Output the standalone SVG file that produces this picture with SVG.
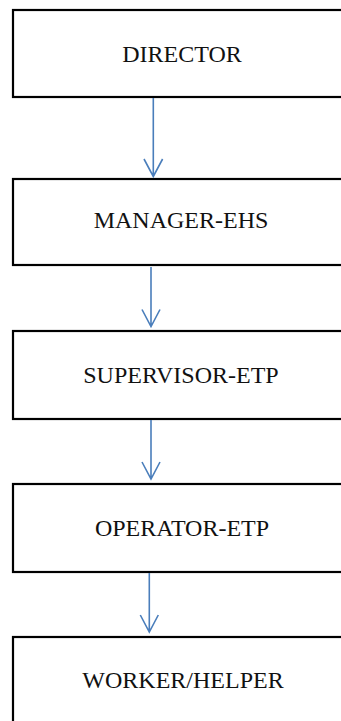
<svg xmlns="http://www.w3.org/2000/svg" width="341" height="721" viewBox="0 0 341 721">
<style>
.box{fill:#fff;stroke:#000;stroke-width:2.2}
.lbl{font-family:"Liberation Serif","Times New Roman",serif;font-size:24px;fill:#111;text-anchor:middle}
.con{fill:none;stroke:#4a7ebb;stroke-width:1.6}
</style>
<rect width="341" height="721" fill="#fff"/>
<g id="director"><rect class="box" x="13" y="10" width="340" height="87"/><text class="lbl" x="182" y="62">DIRECTOR</text></g>
<g id="manager-ehs"><rect class="box" x="13" y="179" width="340" height="86"/><text class="lbl" x="181" y="228">MANAGER-EHS</text></g>
<g id="supervisor-etp"><rect class="box" x="13" y="331" width="340" height="88"/><text class="lbl" x="181" y="383">SUPERVISOR-ETP</text></g>
<g id="operator-etp"><rect class="box" x="13" y="484" width="340" height="88"/><text class="lbl" x="182" y="536">OPERATOR-ETP</text></g>
<g id="worker-helper"><rect class="box" x="13" y="637" width="340" height="100"/><text class="lbl" x="183" y="688">WORKER/HELPER</text></g>
<g id="connectors">
<path class="con" d="M153.3,98 V176.5 M144,159 L153.3,176.5 L162.6,159"/>
<path class="con" d="M151,267 V326.5 M142,309.5 L151,326.5 L160,309.5"/>
<path class="con" d="M151,420 V479 M142,462 L151,479 L160,462"/>
<path class="con" d="M149.3,573 V632 M140.3,615 L149.3,632 L158.3,615"/>
</g>
</svg>
